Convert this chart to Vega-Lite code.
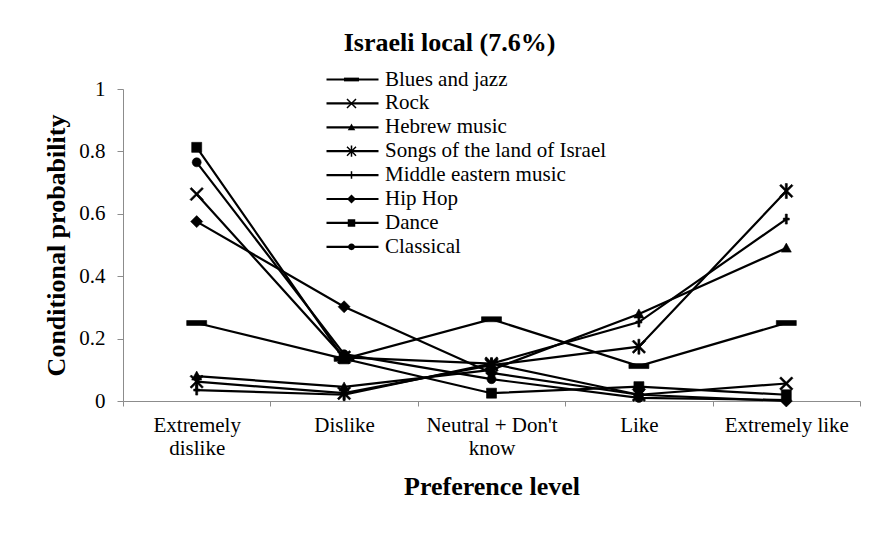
{
  "$schema": "https://vega.github.io/schema/vega-lite/v6.json",
  "width": 737,
  "height": 312,
  "autosize": {"type": "none"},
  "padding": {"left": 123, "top": 89, "right": 26, "bottom": 133},
  "background": "white",
  "config": {
    "view": {"stroke": null},
    "font": "Liberation Serif"
  },
  "title": {
    "text": "Israeli local (7.6%)",
    "font": "Liberation Serif",
    "fontSize": 26,
    "fontWeight": "bold",
    "color": "black",
    "anchor": "middle",
    "frame": "group",
    "dx": -42,
    "dy": -5,
    "offset": 8
  },
  "data": {
    "values": [
      {"genre": "Blues and jazz", "level": "Extremely dislike", "p": 0.25},
      {"genre": "Blues and jazz", "level": "Dislike", "p": 0.135},
      {"genre": "Blues and jazz", "level": "Neutral + Don't know", "p": 0.262},
      {"genre": "Blues and jazz", "level": "Like", "p": 0.112},
      {"genre": "Blues and jazz", "level": "Extremely like", "p": 0.25},
      {"genre": "Rock", "level": "Extremely dislike", "p": 0.663},
      {"genre": "Rock", "level": "Dislike", "p": 0.14},
      {"genre": "Rock", "level": "Neutral + Don't know", "p": 0.12},
      {"genre": "Rock", "level": "Like", "p": 0.02},
      {"genre": "Rock", "level": "Extremely like", "p": 0.056},
      {"genre": "Hebrew music", "level": "Extremely dislike", "p": 0.08},
      {"genre": "Hebrew music", "level": "Dislike", "p": 0.045},
      {"genre": "Hebrew music", "level": "Neutral + Don't know", "p": 0.1},
      {"genre": "Hebrew music", "level": "Like", "p": 0.279},
      {"genre": "Hebrew music", "level": "Extremely like", "p": 0.49},
      {"genre": "Songs of the land of Israel", "level": "Extremely dislike", "p": 0.062},
      {"genre": "Songs of the land of Israel", "level": "Dislike", "p": 0.025},
      {"genre": "Songs of the land of Israel", "level": "Neutral + Don't know", "p": 0.115},
      {"genre": "Songs of the land of Israel", "level": "Like", "p": 0.174},
      {"genre": "Songs of the land of Israel", "level": "Extremely like", "p": 0.673},
      {"genre": "Middle eastern music", "level": "Extremely dislike", "p": 0.035},
      {"genre": "Middle eastern music", "level": "Dislike", "p": 0.02},
      {"genre": "Middle eastern music", "level": "Neutral + Don't know", "p": 0.12},
      {"genre": "Middle eastern music", "level": "Like", "p": 0.253},
      {"genre": "Middle eastern music", "level": "Extremely like", "p": 0.583},
      {"genre": "Hip Hop", "level": "Extremely dislike", "p": 0.575},
      {"genre": "Hip Hop", "level": "Dislike", "p": 0.302},
      {"genre": "Hip Hop", "level": "Neutral + Don't know", "p": 0.09},
      {"genre": "Hip Hop", "level": "Like", "p": 0.02},
      {"genre": "Hip Hop", "level": "Extremely like", "p": 0.0},
      {"genre": "Dance", "level": "Extremely dislike", "p": 0.813},
      {"genre": "Dance", "level": "Dislike", "p": 0.135},
      {"genre": "Dance", "level": "Neutral + Don't know", "p": 0.025},
      {"genre": "Dance", "level": "Like", "p": 0.046},
      {"genre": "Dance", "level": "Extremely like", "p": 0.02},
      {"genre": "Classical", "level": "Extremely dislike", "p": 0.765},
      {"genre": "Classical", "level": "Dislike", "p": 0.15},
      {"genre": "Classical", "level": "Neutral + Don't know", "p": 0.07},
      {"genre": "Classical", "level": "Like", "p": 0.01},
      {"genre": "Classical", "level": "Extremely like", "p": 0.003}
    ]
  },
  "encoding": {
    "x": {
      "field": "level",
      "type": "nominal",
      "sort": ["Extremely dislike", "Dislike", "Neutral + Don't know", "Like", "Extremely like"],
      "bandPosition": 0.5,
      "scale": {"type": "band", "paddingInner": 0, "paddingOuter": 0},
      "axis": {
        "title": "Preference level",
        "titleFont": "Liberation Serif",
        "titleFontSize": 26,
        "titleFontWeight": "bold",
        "titleColor": "black",
        "titlePadding": 15,
        "labelFont": "Liberation Serif",
        "labelFontSize": 21,
        "labelColor": "black",
        "labelAngle": 0,
        "labelPadding": 8,
        "labelLineHeight": 23,
        "labelExpr": "datum.label == 'Extremely dislike' ? ['Extremely', 'dislike'] : datum.label == \"Neutral + Don't know\" ? [\"Neutral + Don't\", 'know'] : datum.label",
        "tickBand": "extent",
        "tickSize": 5,
        "tickColor": "#8c8c8c",
        "domainColor": "#8c8c8c",
        "grid": false
      }
    },
    "y": {
      "field": "p",
      "type": "quantitative",
      "scale": {"domain": [0, 1]},
      "axis": {
        "title": "Conditional probability",
        "titleFont": "Liberation Serif",
        "titleFontSize": 26,
        "titleFontWeight": "bold",
        "titleColor": "black",
        "titlePadding": 9,
        "labelFont": "Liberation Serif",
        "labelFontSize": 21,
        "labelColor": "black",
        "labelPadding": 12,
        "values": [0, 0.2, 0.4, 0.6, 0.8, 1],
        "format": "~g",
        "tickSize": 6,
        "tickColor": "#8c8c8c",
        "domainColor": "#8c8c8c",
        "grid": false
      }
    }
  },
  "layer": [
    {
      "mark": {"type": "line", "strokeWidth": 2.2},
      "encoding": {
        "color": {
          "field": "genre",
          "type": "nominal",
          "scale": {
            "domain": ["Blues and jazz", "Rock", "Hebrew music", "Songs of the land of Israel", "Middle eastern music", "Hip Hop", "Dance", "Classical"],
            "range": ["black", "black", "black", "black", "black", "black", "black", "black"]
          },
          "legend": {
            "orient": "none",
            "legendX": 202,
            "legendY": -20,
            "title": null,
            "padding": 0,
            "symbolType": "stroke",
            "symbolSize": 2704,
            "symbolStrokeWidth": 2.2,
            "symbolStrokeColor": "black",
            "clipHeight": 21,
            "rowPadding": 1.9,
            "labelOffset": 5,
            "labelFont": "Liberation Serif",
            "labelFontSize": 21,
            "labelColor": "black",
            "labelLimit": 0
          }
        }
      }
    },
    {
      "mark": {"type": "point", "filled": true, "opacity": 1, "size": 400, "color": "black", "stroke": "black", "strokeWidth": 0.6},
      "encoding": {
        "shape": {
          "field": "genre",
          "type": "nominal",
          "sort": ["Blues and jazz", "Rock", "Hebrew music", "Songs of the land of Israel", "Middle eastern music", "Hip Hop", "Dance", "Classical"],
          "scale": {
            "range": [
              "M-1,-0.25H1V0.25H-1Z",
              "M-0.53,-0.67L0.67,0.53L0.53,0.67L-0.67,-0.53Z M-0.67,0.53L0.53,-0.67L0.67,-0.53L-0.53,0.67Z",
              "M0,-0.5L0.5,0.4L-0.5,0.4Z",
              "M-0.53,-0.67L0.67,0.53L0.53,0.67L-0.67,-0.53Z M-0.67,0.53L0.53,-0.67L0.67,-0.53L-0.53,0.67Z M-0.1,-0.75H0.1V0.75H-0.1Z",
              "M-0.1,-0.5H0.1V0.5H-0.1Z M-0.3,-0.1H0.3V0.1H-0.3Z",
              "M0,-0.6L0.6,0L0,0.6L-0.6,0Z",
              "M-0.5,-0.5H0.5V0.5H-0.5Z",
              "M0.45,0A0.45,0.45 0 1,1 -0.45,0A0.45,0.45 0 1,1 0.45,0Z"
            ]
          },
          "legend": {
            "orient": "none",
            "legendX": 218,
            "legendY": -20,
            "title": null,
            "padding": 0,
            "symbolSize": 225,
            "symbolFillColor": "black",
            "symbolStrokeColor": "black",
            "symbolStrokeWidth": 0.6,
            "clipHeight": 21,
            "rowPadding": 1.9,
            "labelExpr": "''",
            "labelFontSize": 21
          }
        }
      }
    }
  ]
}
